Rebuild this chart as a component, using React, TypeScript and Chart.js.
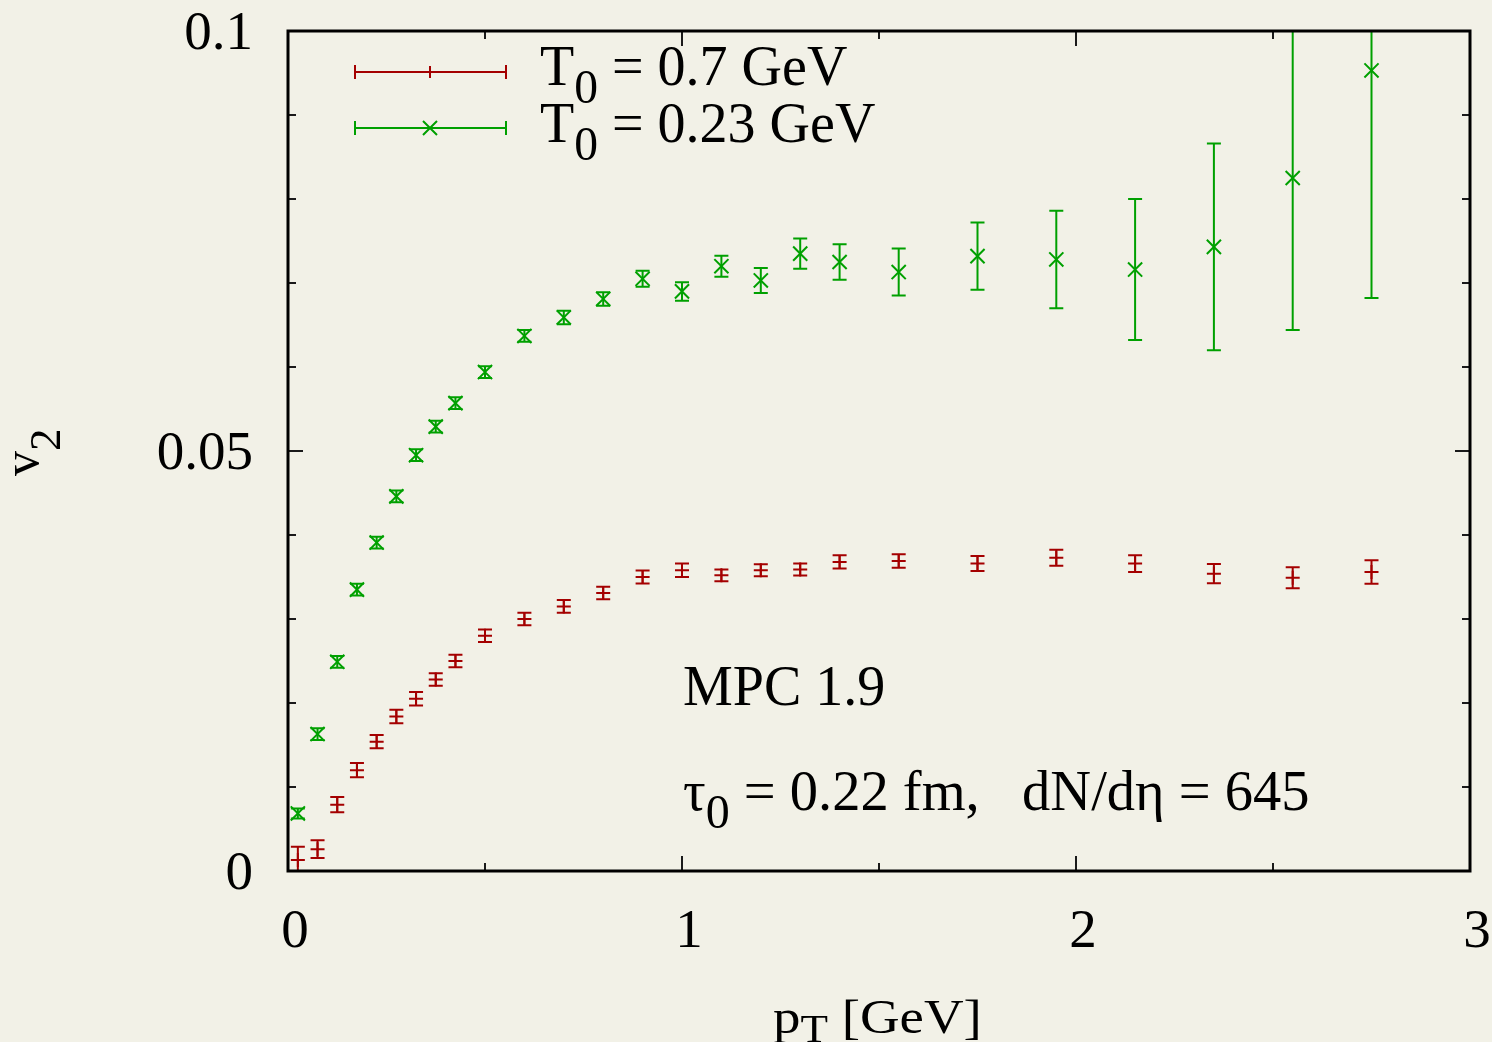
import { useEffect, useRef } from "react";
import { Chart, registerables } from "chart.js";

Chart.register(...registerables);

// ---- data ----
const ptBins = [
  0.025, 0.075, 0.125, 0.175, 0.225, 0.275, 0.325, 0.375, 0.425, 0.5, 0.6, 0.7, 0.8, 0.9, 1.0,
  1.1, 1.2, 1.3, 1.4, 1.55, 1.75, 1.95, 2.15, 2.35, 2.55, 2.75,
];
const v2Hot = [
  0.0013, 0.0026, 0.0079, 0.012, 0.0154, 0.0184, 0.0205, 0.0228, 0.025, 0.028, 0.03, 0.0315,
  0.0331, 0.035, 0.0358, 0.0352, 0.0358, 0.0359, 0.0368, 0.0369, 0.0366, 0.0373, 0.0366,
  0.0354, 0.0349, 0.0356,
];
const errHot = [
  0.0016, 0.00105, 0.0009, 0.00085, 0.0008, 0.0008, 0.0008, 0.00075, 0.00075, 0.00075,
  0.00075, 0.00075, 0.00075, 0.00078, 0.0008, 0.0007, 0.00072, 0.00072, 0.0008, 0.0008,
  0.0009, 0.00095, 0.001, 0.00115, 0.00125, 0.0014,
];
const v2Cold = [
  0.00685, 0.0163, 0.0249, 0.0335, 0.0391, 0.0446, 0.0495, 0.0529, 0.0557, 0.0594, 0.0637,
  0.0659, 0.0681, 0.0705, 0.069, 0.072, 0.0703, 0.0735, 0.0725, 0.0713, 0.0732, 0.0728,
  0.0716, 0.0743, 0.0825, 0.0953,
];
const errCold = [
  0.0006, 0.0007, 0.0007, 0.0007, 0.0007, 0.0007, 0.0007, 0.0007, 0.0007, 0.0007, 0.0007,
  0.0008, 0.0008, 0.00095, 0.0011, 0.00125, 0.0015, 0.0018, 0.0021, 0.0028, 0.004, 0.0058,
  0.0084, 0.0123, 0.0181, 0.0271,
];

const xMajorTicks = [0, 1, 2, 3];
const xTickLabels = ["0", "1", "2", "3"];
const xMinorTicks = [0.5, 1.5, 2.5];
const yMajorTicks = [0, 0.05, 0.1];
const yTickLabels = ["0", "0.05", "0.1"];
const yMinorTicks = [0.01, 0.02, 0.03, 0.04, 0.06, 0.07, 0.08, 0.09];

const legendMain = ["T", "T"];
const legendSub = ["0", "0"];
const legendRest = [" = 0.7 GeV", " = 0.23 GeV"];

const RED = "#a40000";
const GREEN = "#00a000";
const BG = "#f2f1e7";
const FONT = '"Liberation Serif", "Times New Roman", serif';

type Seg = { t: string; sub?: boolean };

function drawRich(
  ctx: CanvasRenderingContext2D,
  segs: Seg[],
  x: number,
  y: number,
  size: number,
  subScale: number,
  subShift: number
) {
  let cx = x;
  for (const s of segs) {
    const fs = s.sub ? size * subScale : size;
    ctx.font = `${fs}px ${FONT}`;
    ctx.fillText(s.t, cx, s.sub ? y + subShift : y);
    cx += ctx.measureText(s.t).width;
  }
  return cx - x;
}

const errorSets = [errHot, errCold];

const decorPlugin = {
  id: "decor",
  beforeDraw(chart: any) {
    const ctx = chart.ctx as CanvasRenderingContext2D;
    ctx.save();
    ctx.fillStyle = BG;
    ctx.fillRect(0, 0, chart.width, chart.height);
    ctx.restore();
  },
  beforeDatasetsDraw(chart: any) {
    const ctx = chart.ctx as CanvasRenderingContext2D;
    const { chartArea, scales } = chart;
    const xs = scales.x;
    const ys = scales.y;
    ctx.save();
    ctx.beginPath();
    ctx.rect(chartArea.left, chartArea.top, chartArea.right - chartArea.left, chartArea.bottom - chartArea.top);
    ctx.clip();
    chart.data.datasets.forEach((ds: any, i: number) => {
      const errs = errorSets[i];
      ctx.strokeStyle = ds.borderColor;
      ctx.lineWidth = 2;
      ds.data.forEach((p: any, j: number) => {
        const px = xs.getPixelForValue(p.x);
        const yt = ys.getPixelForValue(p.y + errs[j]);
        const yb = ys.getPixelForValue(p.y - errs[j]);
        ctx.beginPath();
        ctx.moveTo(px, yt);
        ctx.lineTo(px, yb);
        ctx.moveTo(px - 7, yt);
        ctx.lineTo(px + 7, yt);
        ctx.moveTo(px - 7, yb);
        ctx.lineTo(px + 7, yb);
        ctx.stroke();
      });
    });
    ctx.restore();
  },
  afterDraw(chart: any) {
    const ctx = chart.ctx as CanvasRenderingContext2D;
    const { chartArea, scales } = chart;
    const xs = scales.x;
    const ys = scales.y;
    const { left, right, top, bottom } = chartArea;
    ctx.save();

    // ticks (inward, all four sides)
    ctx.strokeStyle = "#1a1a1a";
    ctx.lineWidth = 2;
    const xt = (vals: number[], len: number) => {
      vals.forEach((v) => {
        const px = xs.getPixelForValue(v);
        ctx.beginPath();
        ctx.moveTo(px, bottom);
        ctx.lineTo(px, bottom - len);
        ctx.moveTo(px, top);
        ctx.lineTo(px, top + len);
        ctx.stroke();
      });
    };
    const yt = (vals: number[], len: number) => {
      vals.forEach((v) => {
        const py = ys.getPixelForValue(v);
        ctx.beginPath();
        ctx.moveTo(left, py);
        ctx.lineTo(left + len, py);
        ctx.moveTo(right, py);
        ctx.lineTo(right - len, py);
        ctx.stroke();
      });
    };
    xt(xMajorTicks, 15);
    xt(xMinorTicks, 8);
    yt(yMajorTicks, 15);
    yt(yMinorTicks, 8);

    // frame
    ctx.strokeStyle = "#000";
    ctx.lineWidth = 3;
    ctx.strokeRect(left, top, right - left, bottom - top);

    // tick labels
    ctx.fillStyle = "#000";
    ctx.font = `55px ${FONT}`;
    ctx.textBaseline = "alphabetic";
    ctx.textAlign = "center";
    xMajorTicks.forEach((v, i) => {
      ctx.fillText(xTickLabels[i], xs.getPixelForValue(v) + 7, 947);
    });
    ctx.textAlign = "right";
    yMajorTicks.forEach((v, i) => {
      ctx.fillText(yTickLabels[i], 253, ys.getPixelForValue(v) + 18);
    });

    // axis titles
    ctx.textAlign = "left";
    ctx.save();
    ctx.translate(773, 1033);
    ctx.scale(1.12, 1);
    drawRich(ctx, [{ t: "p" }, { t: "T", sub: true }, { t: " [GeV]" }], 0, 0, 49, 0.82, 9);
    ctx.restore();

    ctx.save();
    ctx.translate(38, 476);
    ctx.rotate(-Math.PI / 2);
    drawRich(ctx, [{ t: "v" }, { t: "2", sub: true }], 0, 0, 50, 0.9, 22);
    ctx.restore();

    // legend
    const legendColors = [RED, GREEN];
    const legendY = [72, 128];
    const textBase = [85, 142];
    legendColors.forEach((c, i) => {
      const y = legendY[i];
      ctx.strokeStyle = c;
      ctx.lineWidth = 2;
      ctx.beginPath();
      ctx.moveTo(355, y);
      ctx.lineTo(506, y);
      ctx.moveTo(355, y - 7);
      ctx.lineTo(355, y + 7);
      ctx.moveTo(506, y - 7);
      ctx.lineTo(506, y + 7);
      if (i === 0) {
        ctx.moveTo(430, y - 6);
        ctx.lineTo(430, y + 6);
      } else {
        ctx.moveTo(423, y - 7);
        ctx.lineTo(437, y + 7);
        ctx.moveTo(423, y + 7);
        ctx.lineTo(437, y - 7);
      }
      ctx.stroke();
      ctx.fillStyle = "#000";
      drawRich(
        ctx,
        [{ t: legendMain[i] }, { t: legendSub[i], sub: true }, { t: legendRest[i] }],
        540,
        textBase[i],
        56,
        0.85,
        18
      );
    });

    // annotations
    ctx.fillStyle = "#000";
    drawRich(ctx, [{ t: "MPC 1.9" }], 683, 705, 56, 1, 0);
    drawRich(
      ctx,
      [{ t: "τ" }, { t: "0", sub: true }, { t: " = 0.22 fm,   dN/dη = 645" }],
      683,
      810,
      56.5,
      0.85,
      18
    );

    ctx.restore();
  },
};

export default function App() {
  const ref = useRef<HTMLCanvasElement | null>(null);
  useEffect(() => {
    if (!ref.current) return;
    const chart = new Chart(ref.current, {
      type: "scatter",
      data: {
        datasets: [
          {
            label: "T0 = 0.7 GeV",
            data: ptBins.map((x, i) => ({ x, y: v2Hot[i] })),
            borderColor: RED,
            backgroundColor: RED,
            pointStyle: "cross",
            pointRadius: 7,
            pointBorderWidth: 2,
            showLine: false,
          },
          {
            label: "T0 = 0.23 GeV",
            data: ptBins.map((x, i) => ({ x, y: v2Cold[i] })),
            borderColor: GREEN,
            backgroundColor: GREEN,
            pointStyle: "crossRot",
            pointRadius: 10,
            pointBorderWidth: 2,
            showLine: false,
          },
        ],
      },
      options: {
        animation: false,
        responsive: false,
        events: [],
        layout: { padding: { left: 0, right: 22, top: 31, bottom: 0 } },
        plugins: { legend: { display: false }, tooltip: { enabled: false } },
        scales: {
          x: {
            type: "linear",
            min: 0,
            max: 3,
            ticks: { display: false, stepSize: 0.5 },
            grid: { display: false },
            border: { display: false },
            afterFit: (s: any) => {
              s.height = 171;
            },
          },
          y: {
            type: "linear",
            min: 0,
            max: 0.1,
            ticks: { display: false, stepSize: 0.01 },
            grid: { display: false },
            border: { display: false },
            afterFit: (s: any) => {
              s.width = 288;
            },
          },
        },
      },
      plugins: [decorPlugin],
    });
    return () => chart.destroy();
  }, []);
  return (
    <div style={{ position: "fixed", left: 0, top: 0, width: 1492, height: 1042, background: BG }}>
      <canvas ref={ref} width={1492} height={1042} style={{ display: "block" }} />
    </div>
  );
}
